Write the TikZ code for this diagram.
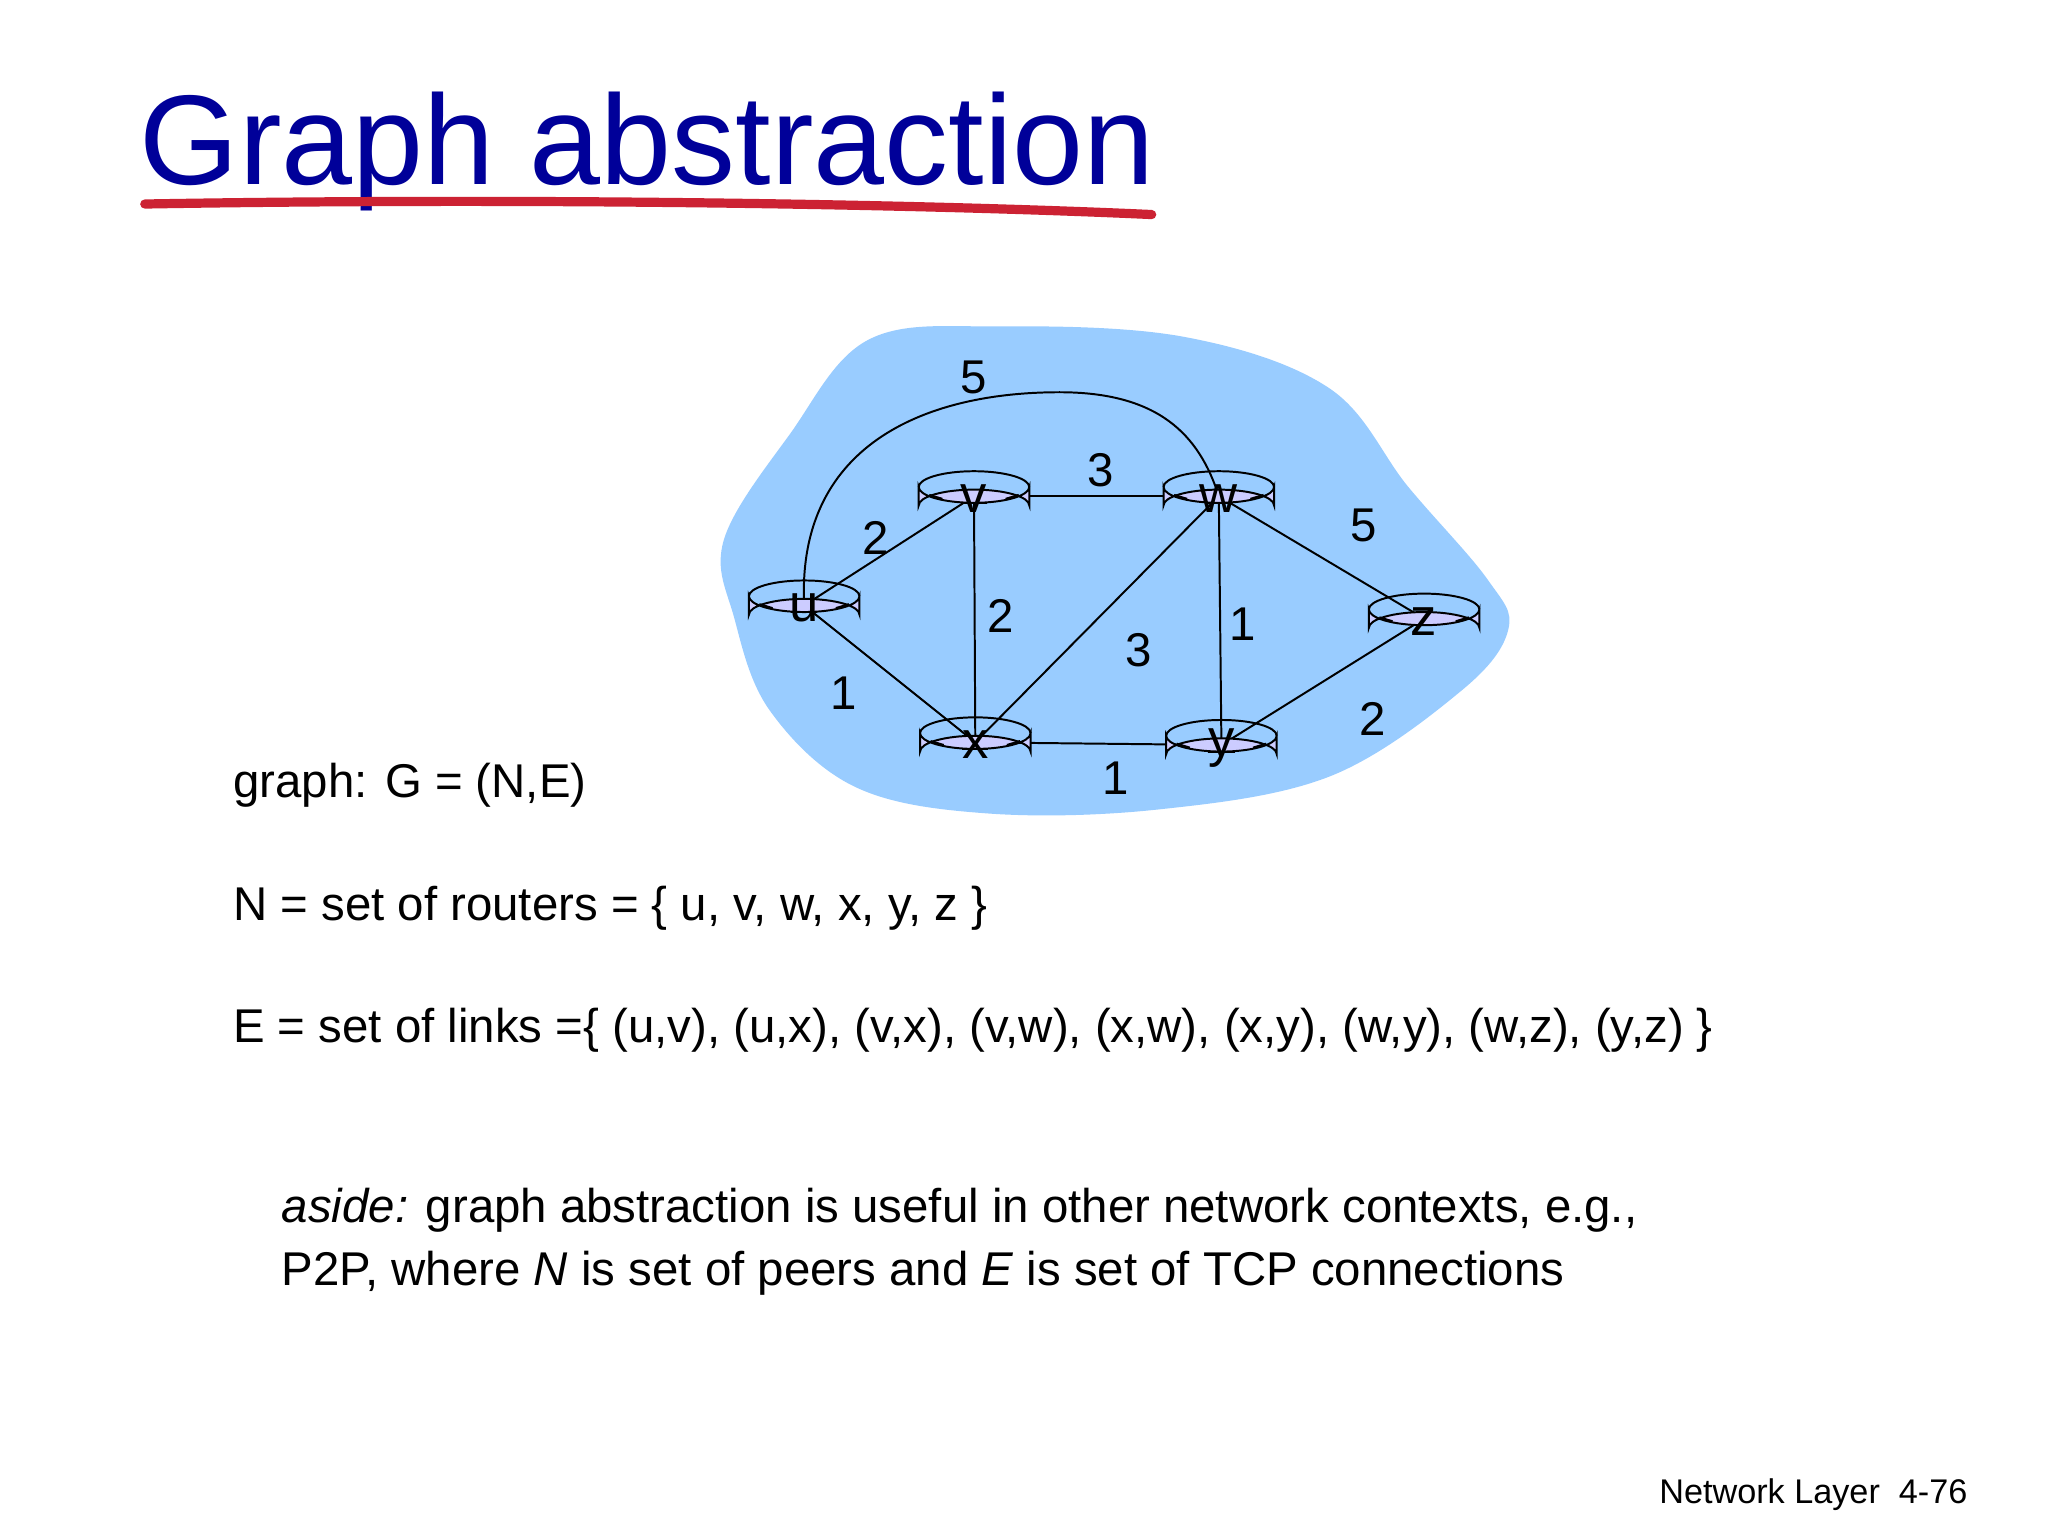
\documentclass[tikz,border=0pt]{standalone}
\usepackage{fontspec}
\setmainfont{Liberation Sans}
\definecolor{ttl}{RGB}{0,0,153}
\definecolor{blob}{RGB}{153,204,255}
\definecolor{rtr}{RGB}{204,204,255}
\definecolor{ul}{RGB}{204,34,51}
\tikzset{
  lbl/.style={font=\fontsize{36}{40}\selectfont, inner sep=0pt},
  body/.style={font=\fontsize{36}{43}\selectfont, anchor=base west, inner sep=0pt},
  edge/.style={line width=1.5pt},
  rname/.style={font=\fontsize{40}{40}\selectfont, inner sep=0pt}
}
\newcommand{\myrouter}[3]{%
  \begin{scope}[shift={(#2,#3)}]
    \fill[rtr,draw=black,line width=1.5pt] (-42,-7) -- (-42,7) arc[start angle=180,end angle=360,x radius=42,y radius=12] -- (42,-7) arc[start angle=0,end angle=180,x radius=42,y radius=12] -- cycle;
    \draw[line width=1.5pt] (-42,-7) arc[start angle=180,end angle=360,x radius=42,y radius=12];
    \draw[line width=1.5pt] (-34,-1) -- (-24,2);
    \draw[line width=1.5pt] (34,-1) -- (24,2);
    \draw[line width=1.5pt] (-10,5) -- (10,5);
    \node[rname] (#1) at (0,0) {};
  \end{scope}}
\begin{document}
\begin{tikzpicture}[x=1pt,y=-1pt]
\useasboundingbox (0,0) rectangle (1556,1168);
\fill[white] (0,0) rectangle (1556,1168);
% title
\node[font=\fontsize{97}{100}\selectfont, text=ttl, anchor=base west, inner sep=0pt] (title) at (106,140) {Graph abstraction};
\draw[ul, line width=7pt, line cap=round] (110,155) .. controls (400,150) and (700,155) .. (875,163);
% blob
\fill[blob] plot[smooth cycle, tension=0.6] coordinates {(550,410) (600,330) (660,258) (760,248) (900,256) (1010,295) (1070,370) (1130,440) (1146,478) (1110,525) (1010,590) (880,615) (750,618) (650,598) (585,540) (558,470)};
% coordinates of routers
\coordinate (cu) at (611,460);
\coordinate (cv) at (740,377);
\coordinate (cw) at (926,377);
\coordinate (cx) at (741,564);
\coordinate (cy) at (928,566);
\coordinate (cz) at (1082,470);
\draw[edge] (cu) -- (cv);
\draw[edge] (cu) -- (cx);
\draw[edge] (cv) -- (cx);
\draw[edge] (cv) -- (cw);
\draw[edge] (cx) -- (cw);
\draw[edge] (cx) -- (cy);
\draw[edge] (cw) -- (cy);
\draw[edge] (cw) -- (cz);
\draw[edge] (cy) -- (cz);
\draw[edge] (cu) .. controls (605,340) and (700,298) .. (805,298) .. controls (880,298) and (911,330) .. (cw);
\myrouter{u}{611}{460}
\myrouter{v}{740}{377}
\myrouter{w}{926}{377}
\myrouter{x}{741}{564}
\myrouter{y}{928}{566}
\myrouter{z}{1082}{470}
\node[rname] at (611,462) {u};
\node[rname] at (740,379) {v};
\node[rname] at (926,379) {w};
\node[rname] at (741,566) {x};
\node[rname] at (928,568) {y};
\node[rname] at (1082,472) {z};
% weights
\node[lbl] (l1) at (740,287) {5};
\node[lbl] (l2) at (836,357) {3};
\node[lbl] (l3) at (665,409) {2};
\node[lbl] (l4) at (760,468) {2};
\node[lbl] (l5) at (944,474) {1};
\node[lbl] (l6) at (865,494) {3};
\node[lbl] (l7) at (1036,399) {5};
\node[lbl] (l8) at (641,527) {1};
\node[lbl] (l9) at (848,591) {1};
\node[lbl] (l10) at (1043,546) {2};
% text
\node[body] (t1) at (177,606) {graph: G = (N,E)};
\node[body] (t2) at (177,699) {N = set of routers = \{ u, v, w, x, y, z \}};
\node[body] (t3) at (177,792) {E = set of links =\{ (u,v), (u,x), (v,x), (v,w), (x,w), (x,y), (w,y), (w,z), (y,z) \}};
\node[body] (t4) at (214,929) {\textit{aside:} graph abstraction is useful in other network contexts, e.g.,};
\node[body] (t5) at (214,977) {P2P, where \textit{N} is set of peers and \textit{E} is set of TCP connections};
\node[font=\fontsize{26}{30}\selectfont, anchor=base east, inner sep=0pt] (foot) at (1495,1142) {Network Layer\ \ 4-76};
\end{tikzpicture}
\end{document}
